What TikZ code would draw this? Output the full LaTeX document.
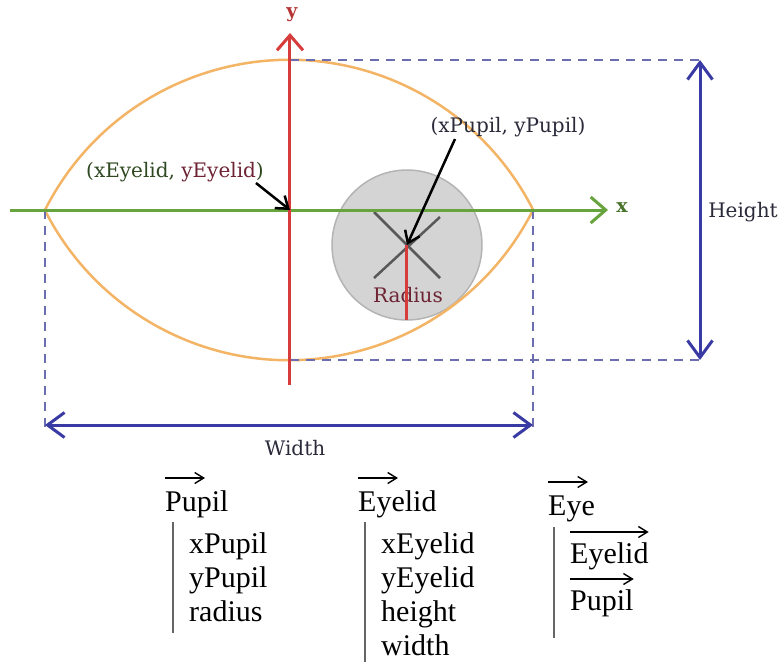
\documentclass[tikz,border=0pt]{standalone}
\usepackage{fontspec}
\setmainfont{Liberation Serif}
\newfontfamily\labelfont{DejaVu Serif}
\usetikzlibrary{arrows.meta,calc}

\definecolor{lidorange}{HTML}{F3B466}
\definecolor{axisgreen}{HTML}{68A43E}
\definecolor{axisred}{HTML}{D63C3C}
\definecolor{dimblue}{HTML}{3A3AA4}
\definecolor{guideblue}{HTML}{6C6CB0}
\definecolor{pupilgray}{HTML}{D4D4D4}
\definecolor{txtgreen}{HTML}{2F4A22}
\definecolor{txtred}{HTML}{6E2434}
\definecolor{txtdark}{HTML}{2A2A3A}

\begin{document}
\begin{tikzpicture}[x=1pt,y=1pt,>=Stealth,line join=round,
    axis/.style={line width=3pt,-{Straight Barb[length=15pt,width=26pt,line width=3pt]}},
    dim/.style={dimblue,line width=3pt,{Straight Barb[length=17pt,width=25pt,line width=3pt]}-{Straight Barb[length=17pt,width=25pt,line width=3pt]}},
    guide/.style={guideblue,line width=1.5pt,dash pattern=on 9pt off 7pt},
    pointer/.style={black,line width=2.5pt,-{Straight Barb[length=11pt,width=16pt,line width=2.5pt]}},
    lbl/.style={font=\labelfont\fontsize{20}{24}\selectfont,inner sep=1pt},
    axislbl/.style={font=\labelfont\bfseries\fontsize{19}{22}\selectfont,inner sep=1pt},
    word/.style={font=\fontsize{30}{34}\selectfont,inner sep=0pt,anchor=base west},
    over/.style={line width=1.4pt,-{Straight Barb[length=9pt,width=11pt,line width=1.4pt]}},
    bar/.style={gray!80!black,line width=2pt}]
  \useasboundingbox (-290,-452) rectangle (490,210);
  \coordinate (O) at (0,0);
  \coordinate (L) at (-245,0);
  \coordinate (R) at (243,0);
  \coordinate (T) at (0,150);
  \coordinate (B) at (0,-150);
  \coordinate (P) at (117,-35);

  % pupil
  \draw[pupilgray!85!black,fill=pupilgray,line width=1.5pt] (P) circle (75);
  \draw[gray!70!black,line width=2.5pt] ($(P)+(-33,33)$) -- ($(P)+(33,-33)$);
  \draw[gray!70!black,line width=2.5pt] ($(P)+(33,28)$) -- ($(P)+(-33,-33)$);
  \node[lbl,txtred] (radiuslbl) at (118,-85) {Radius};
  \draw[axisred,line width=3pt] (P) -- ++(0,-75);

  % eyelid
  \draw[lidorange,line width=2.5pt] (L) arc[start angle=153.2,end angle=26.8,radius=273.5];
  \draw[lidorange,line width=2.5pt] (R) arc[start angle=-26.8,end angle=-153.2,radius=273.5];

  % guides and dimensions
  \draw[guide] (T) -- (410,150);
  \draw[guide] (B) -- (410,-150);
  \draw[guide] (L) -- (-245,-222);
  \draw[guide] (R) -- (243,-222);
  \draw[dim] (410,150) -- (410,-150);
  \draw[dim] (-245,-215) -- (243,-215);
  \node[lbl,txtdark] (heightlbl) at (453,-2) {Height};
  \node[lbl,txtdark] (widthlbl) at (5,-238) {Width};

  % axes
  \draw[axis,axisgreen] (-280,0) -- (318,0);
  \draw[axis,axisred] (0,-175) -- (0,177);
  \node[axislbl,axisgreen!70!black] (xlbl) at (332,2) {x};
  \node[axislbl,axisred!85!black] (ylbl) at (2,195) {y};

  % centres
  \node[lbl] (eyelidlbl) at (-115,38) {{\color{txtgreen}(xEyelid,} {\color{txtred}yEyelid}{\color{txtgreen})}};
  \node[lbl,txtdark] (pupillbl) at (218,83) {(xPupil, yPupil)};
  \draw[pointer] ([xshift=-9pt]eyelidlbl.south east) -- (O);
  \draw[pointer] ($(pupillbl.south)+(-53,-1)$) -- (P);

  % structures
  \node[word] (pupilT) at (-125,-301) {Pupil};
  \foreach \t [count=\i] in {xPupil,yPupil,radius}
    \node[word] (pupil\i) at (-101,{-343-34*(\i-1)}) {\t};
  \draw[bar] (-117,-312) -- (-117,-423);
  \node[word] (eyelidT) at (68,-301) {Eyelid};
  \foreach \t [count=\i] in {xEyelid,yEyelid,height,width}
    \node[word] (eyelid\i) at (91,{-343-34*(\i-1)}) {\t};
  \draw[bar] (75,-312) -- (75,-452);
  \node[word] (eyeT) at (258,-305) {Eye};
  \draw[bar] (264,-317) -- (264,-428);
  \node[word] (eyeA) at (280,-353) {Eyelid};
  \node[word] (eyeB) at (280,-400) {Pupil};
  \foreach \n in {pupilT,eyelidT,eyeT}
    \draw[over] ([yshift=33pt]\n.base west) -- ++(40,0);
  \foreach \n in {eyeA,eyeB}
    \draw[over] ([yshift=31pt]\n.base west) -- ([yshift=31pt]\n.base east);
\end{tikzpicture}
\end{document}
